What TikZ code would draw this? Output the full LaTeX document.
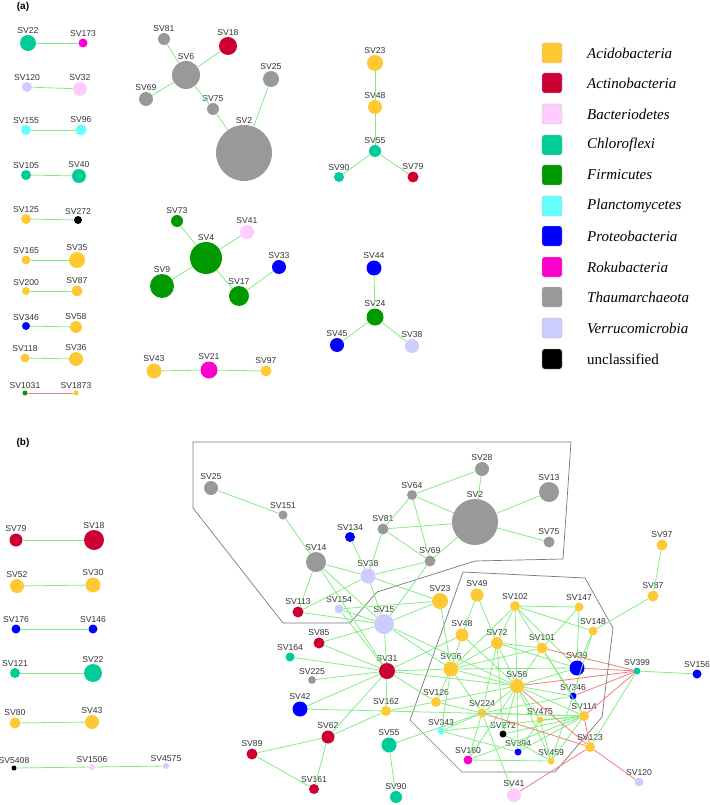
\documentclass[tikz,border=0pt]{standalone}
\usepackage{fontspec}
\usepackage{tikz}
\usetikzlibrary{positioning}
\newfontfamily\arialfont{Liberation Sans}
\newfontfamily\timesfont{Liberation Serif}
\definecolor{acid}{RGB}{255,201,51}
\definecolor{acti}{RGB}{204,0,51}
\definecolor{bact}{RGB}{255,204,255}
\definecolor{chlo}{RGB}{0,204,153}
\definecolor{firm}{RGB}{0,153,0}
\definecolor{plan}{RGB}{102,255,255}
\definecolor{prot}{RGB}{0,0,255}
\definecolor{roku}{RGB}{255,0,204}
\definecolor{thau}{RGB}{153,153,153}
\definecolor{verr}{RGB}{204,204,255}
\definecolor{uncl}{RGB}{0,0,0}
\definecolor{edgegreen}{RGB}{130,236,130}
\definecolor{edgered}{RGB}{242,125,125}
\definecolor{hullgray}{RGB}{120,120,120}

\begin{document}
\begin{tikzpicture}[x=1pt,y=-1pt,
  sv/.style={circle,inner sep=0pt,minimum size=#1},
  every label/.style={font=\arialfont\fontsize{8.6}{8.6}\selectfont,text=black!80,inner sep=1pt},
  label distance=0.3pt,
  acido/.style={fill=acid}, actino/.style={fill=acti}, bactero/.style={fill=bact},
  chloro/.style={fill=chlo}, firmi/.style={fill=firm}, plancto/.style={fill=plan},
  proteo/.style={fill=prot}, rokub/.style={fill=roku}, thaum/.style={fill=thau},
  verruc/.style={fill=verr}, unclass/.style={fill=uncl},
  ge/.style={draw=edgegreen,line width=0.8pt},
  re/.style={draw=edgered,line width=0.8pt},
  hull/.style={draw=hullgray,line width=0.7pt},
  panel/.style={font=\arialfont\bfseries\fontsize{10}{10}\selectfont},
  key/.style={draw=black!25,rounded corners=2.5pt,minimum size=20pt,inner sep=0pt},
  keytext/.style={anchor=west,inner sep=0pt,font=\timesfont\fontsize{15}{15}\selectfont\itshape}]
\useasboundingbox (0,0) rectangle (709,805);
\node[panel] (pa) at (23,7) {(a)};
\node[panel] (pb) at (23,443) {(b)};
\node[sv=16,chloro,label=above:SV22] (aSV22) at (28,43) {};
\node[sv=9,rokub,label=above:SV173] (aSV173) at (83,43) {};
\node[sv=10,verruc,label=above:SV120] (aSV120) at (27,87) {};
\node[sv=14,bactero,label=above:SV32] (aSV32) at (80,89) {};
\node[sv=10,plancto,label=above:SV155] (aSV155) at (26,130) {};
\node[sv=11,plancto,label=above:SV96] (aSV96) at (81,130) {};
\node[sv=10,chloro,label=above:SV105] (aSV105) at (26,175) {};
\node[sv=14,chloro,label=above:SV40] (aSV40) at (79,176) {};
\node[sv=10,acido,label=above:SV125] (aSV125) at (26,219) {};
\node[sv=8,unclass,label=above:SV272] (aSV272) at (78,220) {};
\node[sv=9,acido,label=above:SV165] (aSV165) at (26,260) {};
\node[sv=16,acido,label=above:SV35] (aSV35) at (77,260) {};
\node[sv=8,acido,label=above:SV200] (aSV200) at (26,291) {};
\node[sv=11,acido,label=above:SV87] (aSV87) at (77,291) {};
\node[sv=8,proteo,label=above:SV346] (aSV346) at (26,326) {};
\node[sv=12,acido,label=above:SV58] (aSV58) at (76,327) {};
\node[sv=9,acido,label=above:SV118] (aSV118) at (25,358) {};
\node[sv=14,acido,label=above:SV36] (aSV36) at (76,359) {};
\node[sv=5,firmi,label=above:SV1031] (aSV1031) at (25,393) {};
\node[sv=5,acido,label=above:SV1873] (aSV1873) at (76,393) {};
\node[sv=12,thaum,label=above:SV81] (aSV81) at (164,39) {};
\node[sv=18,actino,label=above:SV18] (aSV18) at (228,46) {};
\node[sv=28,thaum,label=above:SV6] (aSV6) at (186,75) {};
\node[sv=16,thaum,label=above:SV25] (aSV25) at (271,79) {};
\node[sv=14,thaum,label=above:SV69] (aSV69) at (146,99) {};
\node[sv=12,thaum,label=above:SV75] (aSV75) at (213,109) {};
\node[sv=56,thaum,label=above:SV2] (aSV2) at (244,153) {};
\node[sv=16,acido,label=above:SV23] (aSV23) at (375,63) {};
\node[sv=14,acido,label=above:SV48] (aSV48) at (375,107) {};
\node[sv=12,chloro,label=above:SV55] (aSV55) at (375,151) {};
\node[sv=10,chloro,label=above:SV90] (aSV90) at (339,177) {};
\node[sv=11,actino,label=above:SV79] (aSV79) at (413,177) {};
\node[sv=12,firmi,label=above:SV73] (aSV73) at (177,221) {};
\node[sv=14,bactero,label=above:SV41] (aSV41) at (247,232) {};
\node[sv=32,firmi,label=above:SV4] (aSV4) at (206,258) {};
\node[sv=14,proteo,label=above:SV33] (aSV33) at (279,267) {};
\node[sv=24,firmi,label=above:SV9] (aSV9) at (162,286) {};
\node[sv=20,firmi,label=above:SV17] (aSV17) at (239,296) {};
\node[sv=15,acido,label=above:SV43] (aSV43) at (154,371) {};
\node[sv=17,rokub,label=above:SV21] (aSV21) at (209,370) {};
\node[sv=11,acido,label=above:SV97] (aSV97) at (266,371) {};
\node[sv=15,proteo,label=above:SV44] (aSV44) at (374,268) {};
\node[sv=17,firmi,label=above:SV24] (aSV24) at (375,317) {};
\node[sv=14,proteo,label=above:SV45] (aSV45) at (337,345) {};
\node[sv=14,verruc,label=above:SV38] (aSV38) at (412,346) {};
\node[key,fill=acid] (k1) at (552,53) {};
\node[key,fill=acti] (k2) at (552,83) {};
\node[key,fill=bact] (k3) at (552,114) {};
\node[key,fill=chlo] (k4) at (552,145) {};
\node[key,fill=firm] (k5) at (552,175) {};
\node[key,fill=plan] (k6) at (552,206) {};
\node[key,fill=prot] (k7) at (552,236) {};
\node[key,fill=roku] (k8) at (552,267) {};
\node[key,fill=thau] (k9) at (552,297) {};
\node[key,fill=verr] (k10) at (552,328) {};
\node[key,fill=uncl] (k11) at (552,359) {};
\node[keytext] (t1) at (587,53) {Acidobacteria};
\node[keytext] (t2) at (587,83) {Actinobacteria};
\node[keytext] (t3) at (587,114) {Bacteriodetes};
\node[keytext] (t4) at (587,145) {Chloroflexi};
\node[keytext] (t5) at (587,175) {Firmicutes};
\node[keytext] (t6) at (587,206) {Planctomycetes};
\node[keytext] (t7) at (587,236) {Proteobacteria};
\node[keytext] (t8) at (587,267) {Rokubacteria};
\node[keytext] (t9) at (587,297) {Thaumarchaeota};
\node[keytext] (t10) at (587,328) {Verrucomicrobia};
\node[keytext,font=\timesfont\fontsize{15}{15}\selectfont] (t11) at (587,359) {unclassified};
\draw[hull] (193,442) -- (571,442) -- (563,559) -- (475,561) -- (377,592) -- (350,623) -- (283,623) -- (193,508) -- cycle;
\draw[hull] (463,572) -- (585,578) -- (613,628) -- (602,717) -- (555,772) -- (462,772) -- (410,720) -- cycle;
\node[sv=13,actino,label=above:SV79] (bSV79) at (16,540) {};
\node[sv=20,actino,label=above:SV18] (bSV18) at (94,540) {};
\node[sv=14,acido,label=above:SV52] (bSV52) at (17,586) {};
\node[sv=15,acido,label=above:SV30] (bSV30) at (93,585) {};
\node[sv=9,proteo,label=above:SV176] (bSV176) at (16,629) {};
\node[sv=9,proteo,label=above:SV146] (bSV146) at (93,629) {};
\node[sv=10,chloro,label=above:SV121] (bSV121) at (15,673) {};
\node[sv=18,chloro,label=above:SV22] (bSV22) at (93,673) {};
\node[sv=11,acido,label=above:SV80] (bSV80) at (15,723) {};
\node[sv=14,acido,label=above:SV43] (bSV43) at (92,722) {};
\node[sv=5,unclass,label=above:SV5408] (bSV5408) at (14,768) {};
\node[sv=6,bactero,label=above:SV1506] (bSV1506) at (92,767) {};
\node[sv=6,verruc,label=above:SV4575] (bSV4575) at (166,766) {};
\node[sv=14,thaum,label=above:SV25] (bSV25) at (211,488) {};
\node[sv=9,thaum,label=above:SV151] (bSV151) at (283,515) {};
\node[sv=10,proteo,label=above:SV134] (bSV134) at (350,537) {};
\node[sv=11,thaum,label=above:SV81] (bSV81) at (383,529) {};
\node[sv=10,thaum,label=above:SV64] (bSV64) at (412,495) {};
\node[sv=20,thaum,label=above:SV14] (bSV14) at (316,562) {};
\node[sv=15,verruc,label=above:SV38] (bSV38) at (368,576) {};
\node[sv=11,thaum,label=above:SV69] (bSV69) at (430,561) {};
\node[sv=14,thaum,label=above:SV28] (bSV28) at (482,469) {};
\node[sv=20,thaum,label=above:SV13] (bSV13) at (549,492) {};
\node[sv=46,thaum,label=above:SV2] (bSV2) at (475,522) {};
\node[sv=11,thaum,label=above:SV75] (bSV75) at (549,542) {};
\node[sv=11,acido,label=above:SV97] (bSV97) at (662,545) {};
\node[sv=11,acido,label=above:SV87] (bSV87) at (653,596) {};
\node[sv=11,actino,label=above:SV113] (bSV113) at (298,612) {};
\node[sv=9,verruc,label=above:SV154] (bSV154) at (339,609) {};
\node[sv=20,verruc,label=above:SV15] (bSV15) at (384,624) {};
\node[sv=11,actino,label=above:SV85] (bSV85) at (319,643) {};
\node[sv=9,chloro,label=above:SV164] (bSV164) at (290,657) {};
\node[sv=16,actino,label=above:SV31] (bSV31) at (387,671) {};
\node[sv=8,thaum,label=above:SV225] (bSV225) at (312,680) {};
\node[sv=15,proteo,label=above:SV42] (bSV42) at (300,709) {};
\node[sv=10,acido,label=above:SV162] (bSV162) at (386,711) {};
\node[sv=13,actino,label=above:SV62] (bSV62) at (328,737) {};
\node[sv=15,chloro,label=above:SV55] (bSV55) at (389,745) {};
\node[sv=11,actino,label=above:SV89] (bSV89) at (252,754) {};
\node[sv=10,actino,label=above:SV161] (bSV161) at (314,789) {};
\node[sv=12,chloro,label=above:SV90] (bSV90) at (396,797) {};
\node[sv=16,acido,label=above:SV23] (bSV23) at (440,601) {};
\node[sv=13,acido,label=above:SV49] (bSV49) at (477,595) {};
\node[sv=10,acido,label=above:SV102] (bSV102) at (515,606) {};
\node[sv=9,acido,label=above:SV147] (bSV147) at (579,607) {};
\node[sv=13,acido,label=above:SV48] (bSV48) at (462,635) {};
\node[sv=9,acido,label=above:SV148] (bSV148) at (593,631) {};
\node[sv=12,acido,label=above:SV72] (bSV72) at (497,643) {};
\node[sv=11,acido,label=above:SV101] (bSV101) at (542,648) {};
\node[sv=15,acido,label=above:SV36] (bSV36) at (451,669) {};
\node[sv=15,proteo,label=above:SV39] (bSV39) at (577,668) {};
\node[sv=7,chloro,label=above:SV399] (bSV399) at (637,671) {};
\node[sv=9,proteo,label=above:SV156] (bSV156) at (697,674) {};
\node[sv=14,acido,label=above:SV58] (bSV58) at (517,686) {};
\node[sv=7,proteo,label=above:SV346] (bSV346) at (573,696) {};
\node[sv=10,acido,label=above:SV126] (bSV126) at (436,702) {};
\node[sv=9,acido,label=above:SV224] (bSV224) at (482,713) {};
\node[sv=10,acido,label=above:SV114] (bSV114) at (584,716) {};
\node[sv=7,acido,label=above:SV475] (bSV475) at (540,720) {};
\node[sv=7,plancto,label=above:SV343] (bSV343) at (441,731) {};
\node[sv=7,unclass,label=above:SV272] (bSV272) at (503,734) {};
\node[sv=10,acido,label=above:SV123] (bSV123) at (590,747) {};
\node[sv=7,proteo,label=above:SV394] (bSV394) at (518,752) {};
\node[sv=9,rokub,label=above:SV180] (bSV180) at (468,760) {};
\node[sv=7,acido,label=above:SV459] (bSV459) at (551,761) {};
\node[sv=9,verruc,label=above:SV120] (bSV120) at (639,782) {};
\node[sv=14,bactero,label=above:SV41] (bSV41) at (514,795) {};
\draw[ge] (aSV22)--(aSV173); \draw[ge] (aSV120)--(aSV32); \draw[ge] (aSV155)--(aSV96); \draw[ge] (aSV105)--(aSV40);
\draw[ge] (aSV125)--(aSV272); \draw[ge] (aSV165)--(aSV35); \draw[ge] (aSV200)--(aSV87); \draw[ge] (aSV346)--(aSV58);
\draw[ge] (aSV118)--(aSV36); \draw[re] (aSV1031)--(aSV1873);
\draw[ge] (aSV81)--(aSV6); \draw[ge] (aSV18)--(aSV6); \draw[ge] (aSV69)--(aSV6); \draw[ge] (aSV6)--(aSV75)--(aSV2); \draw[ge] (aSV25)--(aSV2);
\draw[ge] (aSV23)--(aSV48)--(aSV55); \draw[ge] (aSV55)--(aSV90); \draw[ge] (aSV55)--(aSV79);
\draw[ge] (aSV73)--(aSV4); \draw[ge] (aSV41)--(aSV4); \draw[ge] (aSV9)--(aSV4); \draw[ge] (aSV4)--(aSV17)--(aSV33);
\draw[ge] (aSV43)--(aSV21)--(aSV97);
\draw[ge] (aSV44)--(aSV24); \draw[ge] (aSV24)--(aSV45); \draw[ge] (aSV24)--(aSV38);
\draw[ge] (bSV79)--(bSV18); \draw[ge] (bSV52)--(bSV30); \draw[ge] (bSV176)--(bSV146); \draw[ge] (bSV121)--(bSV22);
\draw[ge] (bSV80)--(bSV43); \draw[ge] (bSV5408)--(bSV1506)--(bSV4575);
\draw[ge] (bSV25)--(bSV151)--(bSV14); \draw[ge] (bSV14)--(bSV38); \draw[ge] (bSV14)--(bSV113); \draw[ge] (bSV14)--(bSV15); \draw[ge] (bSV14)--(bSV31);
\draw[ge] (bSV134)--(bSV38); \draw[ge] (bSV81)--(bSV38); \draw[ge] (bSV81)--(bSV64); \draw[ge] (bSV81)--(bSV69); \draw[ge] (bSV81)--(bSV2);
\draw[ge] (bSV64)--(bSV28); \draw[ge] (bSV64)--(bSV2); \draw[ge] (bSV64)--(bSV69); \draw[ge] (bSV28)--(bSV2); \draw[ge] (bSV13)--(bSV2);
\draw[ge] (bSV75)--(bSV2); \draw[ge] (bSV2)--(bSV69); \draw[ge] (bSV69)--(bSV38); \draw[ge] (bSV69)--(bSV15);
\draw[ge] (bSV38)--(bSV23); \draw[ge] (bSV38)--(bSV113); \draw[ge] (bSV38)--(bSV15); \draw[ge] (bSV113)--(bSV15);
\draw[ge] (bSV154)--(bSV23); \draw[ge] (bSV154)--(bSV15); \draw[ge] (bSV154)--(bSV31);
\draw[ge] (bSV15)--(bSV23); \draw[ge] (bSV15)--(bSV31); \draw[ge] (bSV15)--(bSV85); \draw[ge] (bSV15)--(bSV36); \draw[ge] (bSV15)--(bSV58);
\draw[ge] (bSV31)--(bSV85); \draw[ge] (bSV31)--(bSV164); \draw[ge] (bSV31)--(bSV225); \draw[ge] (bSV31)--(bSV42); \draw[ge] (bSV31)--(bSV62);
\draw[ge] (bSV31)--(bSV162); \draw[ge] (bSV31)--(bSV48); \draw[ge] (bSV31)--(bSV36); \draw[ge] (bSV31)--(bSV58); \draw[ge] (bSV31)--(bSV126);
\draw[ge] (bSV162)--(bSV42); \draw[ge] (bSV162)--(bSV62); \draw[ge] (bSV162)--(bSV114); \draw[ge] (bSV162)--(bSV126);
\draw[ge] (bSV62)--(bSV89)--(bSV161)--(bSV62); \draw[ge] (bSV55)--(bSV90); \draw[ge] (bSV55)--(bSV224);
\draw[ge] (bSV23)--(bSV36); \draw[ge] (bSV49)--(bSV48); \draw[ge] (bSV49)--(bSV72);
\draw[ge] (bSV102)--(bSV147); \draw[ge] (bSV102)--(bSV148); \draw[ge] (bSV102)--(bSV72); \draw[ge] (bSV102)--(bSV36);
\draw[ge] (bSV102)--(bSV58); \draw[ge] (bSV102)--(bSV101); \draw[ge] (bSV102)--(bSV39);
\draw[ge] (bSV147)--(bSV101); \draw[ge] (bSV147)--(bSV39); \draw[ge] (bSV148)--(bSV87)--(bSV97); \draw[ge] (bSV148)--(bSV39); \draw[ge] (bSV148)--(bSV346);
\draw[ge] (bSV72)--(bSV36); \draw[ge] (bSV72)--(bSV101); \draw[ge] (bSV72)--(bSV39); \draw[ge] (bSV72)--(bSV58); \draw[ge] (bSV72)--(bSV224); \draw[ge] (bSV72)--(bSV272);
\draw[ge] (bSV48)--(bSV36); \draw[ge] (bSV48)--(bSV58);
\draw[ge] (bSV36)--(bSV101); \draw[ge] (bSV36)--(bSV39); \draw[ge] (bSV36)--(bSV58); \draw[ge] (bSV36)--(bSV126); \draw[ge] (bSV36)--(bSV224); \draw[ge] (bSV36)--(bSV343);
\draw[ge] (bSV101)--(bSV58); \draw[ge] (bSV101)--(bSV346); \draw[ge] (bSV101)--(bSV114); \draw[ge] (bSV39)--(bSV58);
\draw[ge] (bSV58)--(bSV346); \draw[ge] (bSV58)--(bSV224); \draw[ge] (bSV58)--(bSV126); \draw[ge] (bSV58)--(bSV475); \draw[ge] (bSV58)--(bSV114);
\draw[ge] (bSV58)--(bSV272); \draw[ge] (bSV58)--(bSV394); \draw[ge] (bSV58)--(bSV459); \draw[ge] (bSV58)--(bSV180);
\draw[ge] (bSV224)--(bSV343); \draw[ge] (bSV224)--(bSV180); \draw[ge] (bSV224)--(bSV114); \draw[ge] (bSV224)--(bSV41);
\draw[ge] (bSV114)--(bSV346); \draw[ge] (bSV114)--(bSV475); \draw[ge] (bSV114)--(bSV343); \draw[ge] (bSV114)--(bSV272);
\draw[ge] (bSV114)--(bSV394); \draw[ge] (bSV114)--(bSV459); \draw[ge] (bSV114)--(bSV180);
\draw[ge] (bSV346)--(bSV459); \draw[ge] (bSV346)--(bSV224); \draw[ge] (bSV475)--(bSV459); \draw[ge] (bSV475)--(bSV394);
\draw[ge] (bSV343)--(bSV394); \draw[ge] (bSV272)--(bSV459); \draw[ge] (bSV180)--(bSV459); \draw[ge] (bSV126)--(bSV224);
\draw[ge] (bSV399)--(bSV156); \draw[ge] (bSV399)--(bSV123);
\draw[re] (bSV399)--(bSV101); \draw[re] (bSV399)--(bSV39); \draw[re] (bSV399)--(bSV58); \draw[re] (bSV399)--(bSV346); \draw[re] (bSV399)--(bSV114);
\draw[re] (bSV123)--(bSV58); \draw[re] (bSV123)--(bSV224); \draw[re] (bSV123)--(bSV41); \draw[re] (bSV123)--(bSV120); \draw[re] (bSV123)--(bSV114);
\end{tikzpicture}
\end{document}
